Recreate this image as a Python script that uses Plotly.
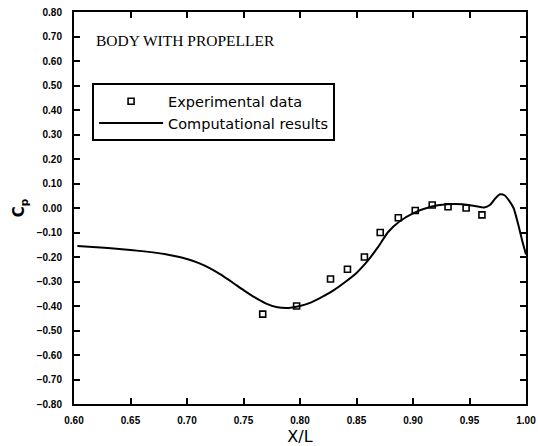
import plotly.graph_objects as go

# Experimental data
exp_x = [0.767, 0.797, 0.827, 0.842, 0.857, 0.871, 0.887, 0.902, 0.917, 0.931, 0.947, 0.961]
exp_cp = [-0.433, -0.400, -0.290, -0.250, -0.200, -0.100, -0.040, -0.010, 0.012, 0.005, 0.000, -0.028]

# Computational results
comp_x = [0.603, 0.62, 0.64, 0.66, 0.68, 0.69, 0.70, 0.71, 0.72, 0.73, 0.74, 0.75, 0.76,
          0.77, 0.78, 0.79, 0.80, 0.81, 0.82, 0.83, 0.84, 0.85, 0.86, 0.869, 0.878, 0.888,
          0.900, 0.915, 0.930, 0.944, 0.955, 0.963, 0.968, 0.973, 0.977, 0.981, 0.985,
          0.989, 0.993, 0.997, 1.000]
comp_cp = [-0.155, -0.160, -0.167, -0.176, -0.188, -0.197, -0.208, -0.224, -0.245, -0.272,
           -0.303, -0.335, -0.365, -0.390, -0.405, -0.408, -0.400, -0.385, -0.362, -0.335,
           -0.302, -0.265, -0.215, -0.160, -0.098, -0.055, -0.022, 0.004, 0.015, 0.015,
           0.008, 0.002, 0.012, 0.040, 0.056, 0.052, 0.030, 0.000, -0.065, -0.140, -0.190]

x_ticks = [0.60, 0.65, 0.70, 0.75, 0.80, 0.85, 0.90, 0.95, 1.00]
y_ticks = [0.80, 0.70, 0.60, 0.50, 0.40, 0.30, 0.20, 0.10, 0.00, -0.10, -0.20, -0.30,
           -0.40, -0.50, -0.60, -0.70, -0.80]

fig = go.Figure()
fig.add_trace(go.Scatter(
    x=exp_x, y=exp_cp, mode="markers", name="Experimental data",
    marker=dict(symbol="square-open", size=6, color="black", line=dict(width=1.6, color="black")),
))
fig.add_trace(go.Scatter(
    x=comp_x, y=comp_cp, mode="lines", name="Computational results",
    line=dict(color="black", width=2, shape="spline", smoothing=0.6),
))

tickfont = dict(family="Liberation Sans, Arial", size=10, color="black", weight="bold")
fig.update_layout(
    width=538, height=446,
    margin=dict(l=74, r=12, t=12, b=42, autoexpand=False),
    paper_bgcolor="white", plot_bgcolor="white",
    showlegend=True,
    legend=dict(
        x=0.04, y=0.818, xanchor="left", yanchor="top",
        bordercolor="black", borderwidth=2, bgcolor="white",
        font=dict(family="DejaVu Sans", size=14.5, color="black"),
        itemwidth=64, tracegroupgap=0,
    ),
    xaxis=dict(
        range=[0.60, 1.00], tickvals=x_ticks, ticktext=[f"{v:.2f}" for v in x_ticks],
        ticks="inside", ticklen=6, tickwidth=1.5, tickcolor="black",
        showline=True, linecolor="black", linewidth=2, mirror="ticks",
        showgrid=False, zeroline=False, tickfont=tickfont, ticklabelstandoff=6,
        automargin=False,
        title=dict(text="X/L", font=dict(family="DejaVu Sans", size=16, color="black"), standoff=6),
    ),
    yaxis=dict(
        range=[-0.80, 0.80], tickvals=y_ticks, ticktext=[f"{v:.2f}".replace("-", "\u2212") for v in y_ticks],
        ticks="inside", ticklen=6, tickwidth=1.5, tickcolor="black",
        showline=True, linecolor="black", linewidth=2, mirror="ticks",
        showgrid=False, zeroline=False, tickfont=tickfont, ticklabelstandoff=8,
        automargin=False,
        title=dict(text="C<sub>p</sub>", font=dict(family="DejaVu Sans", size=15, color="black", weight="bold"), standoff=8),
    ),
    annotations=[dict(
        text="BODY WITH PROPELLER", x=0.045, y=0.928, xref="paper", yref="paper",
        xanchor="left", yanchor="middle", showarrow=False,
        font=dict(family="Liberation Serif, Times New Roman", size=15.5, color="black"),
    )],
)

fig.write_html("out.html")
